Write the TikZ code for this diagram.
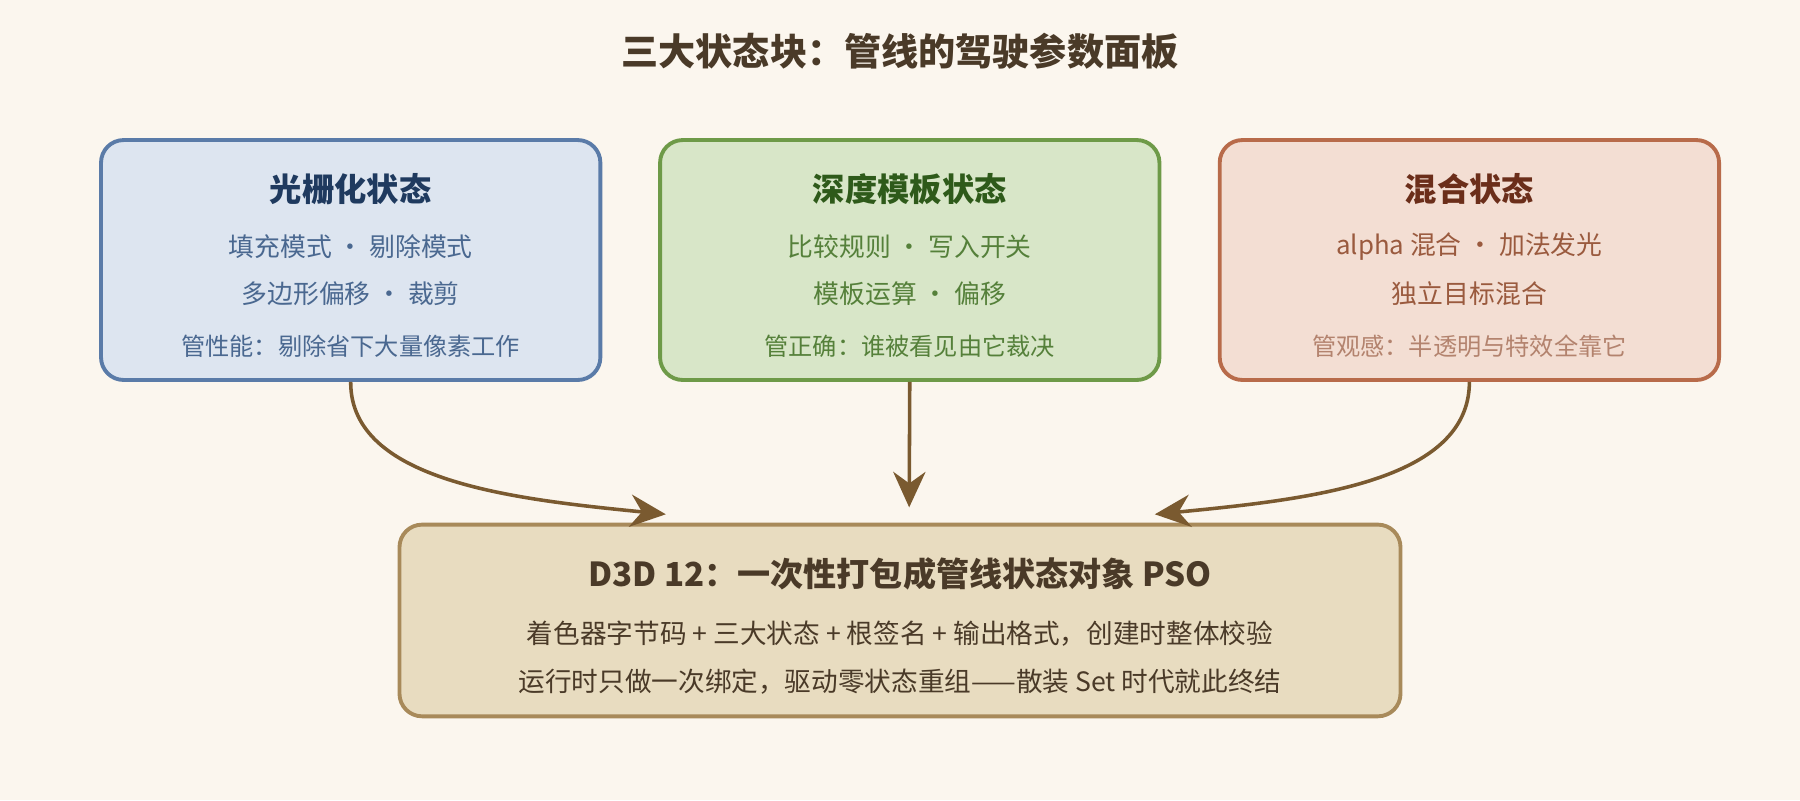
\documentclass[tikz,border=0pt]{standalone}
\usepackage{fontspec}
\setmainfont{Noto Sans CJK SC}
\usetikzlibrary{positioning, arrows.meta}
\definecolor{bgc}{HTML}{FBF6EE}
\definecolor{blfill}{HTML}{DDE5F0}\definecolor{bldraw}{HTML}{5A7BA8}
\definecolor{bltitle}{HTML}{1F3A5F}\definecolor{bltext}{HTML}{4A6890}
\definecolor{gnfill}{HTML}{D8E6C8}\definecolor{gndraw}{HTML}{6E9A48}
\definecolor{gntitle}{HTML}{2E5A1A}\definecolor{gntext}{HTML}{55803A}
\definecolor{rdfill}{HTML}{F3DED3}\definecolor{rddraw}{HTML}{B86B4A}
\definecolor{rdtitle}{HTML}{6B2E1A}\definecolor{rdtext}{HTML}{9A5A3E}
\definecolor{bnfill}{HTML}{E8DCC0}\definecolor{bndraw}{HTML}{A88A5A}
\definecolor{bntext}{HTML}{4A3A28}\definecolor{arr}{HTML}{7A5A30}
\tikzset{
  state/.style={rectangle, rounded corners=14pt, line width=2.4pt, minimum width=435*0.025cm, minimum height=209*0.025cm},
  ttl/.style={font=\fontsize{20}{22}\selectfont\bfseries},
  txt/.style={font=\fontsize{16}{18}\selectfont},
  foot/.style={font=\fontsize{15}{17}\selectfont},
  flow/.style={-{Stealth[length=22pt,width=20pt]}, line width=2.2pt, draw=arr}
}
\begin{document}
\begin{tikzpicture}[x=0.025cm, y=-0.025cm]
  \fill[bgc] (0,0) rectangle (1568,697);
  \useasboundingbox (0,0) rectangle (1568,697);
  % title
  \node[font=\fontsize{23}{25}\selectfont\bfseries, text=bntext] (title) at (784,45) {三大状态块：管线的驾驶参数面板};
  % rasterizer
  \node[state, fill=blfill, draw=bldraw] (rast) at (305.5,226.5) {};
  \node[ttl, text=bltitle] (rastT) at (305.5,165) {光栅化状态};
  \node[txt, text=bltext] (rastA) at (305.5,215) {填充模式 · 剔除模式};
  \node[txt, text=bltext] (rastB) at (305.5,256) {多边形偏移 · 裁剪};
  \node[foot, text=bltext] (rastC) at (305.5,302) {管性能：剔除省下大量像素工作};
  % depth stencil
  \node[state, fill=gnfill, draw=gndraw] (depth) at (792.5,226.5) {};
  \node[ttl, text=gntitle] (depthT) at (792.5,165) {深度模板状态};
  \node[txt, text=gntext] (depthA) at (792.5,215) {比较规则 · 写入开关};
  \node[txt, text=gntext] (depthB) at (792.5,256) {模板运算 · 偏移};
  \node[foot, text=gntext] (depthC) at (792.5,302) {管正确：谁被看见由它裁决};
  % blend
  \node[state, fill=rdfill, draw=rddraw] (blend) at (1280,226.5) {};
  \node[ttl, text=rdtitle] (blendT) at (1280,165) {混合状态};
  \node[txt, text=rdtext] (blendA) at (1280,215) {alpha 混合 · 加法发光};
  \node[txt, text=rdtext] (blendB) at (1280,256) {独立目标混合};
  \node[foot, text=rdtext!75] (blendC) at (1280,302) {管观感：半透明与特效全靠它};
  % pso
  \node[state, fill=bnfill, draw=bndraw, minimum width=872*0.025cm, minimum height=167*0.025cm] (pso) at (784,540.5) {};
  \node[ttl, font=\fontsize{20.5}{22}\selectfont\bfseries, text=bntext] (psoT) at (784,500) {D3D 12：一次性打包成管线状态对象 PSO};
  \node[txt, font=\fontsize{16.5}{18}\selectfont, text=bntext] (psoA) at (784,552) {着色器字节码 + 三大状态 + 根签名 + 输出格式，创建时整体校验};
  \node[txt, font=\fontsize{16.5}{18}\selectfont, text=bntext] (psoB) at (784,594) {运行时只做一次绑定，驱动零状态重组——散装 Set 时代就此终结};
  \coordinate (inL) at (580,448);
  \coordinate (inM) at (792,442);
  \coordinate (inR) at (1006,448);
  % connectors
  \draw[flow] (rast.south) .. controls (305,420) and (450,435) .. (inL);
  \draw[flow] (depth.south) -- (inM);
  \draw[flow] (blend.south) .. controls (1280,420) and (1140,435) .. (inR);
\end{tikzpicture}
\end{document}
